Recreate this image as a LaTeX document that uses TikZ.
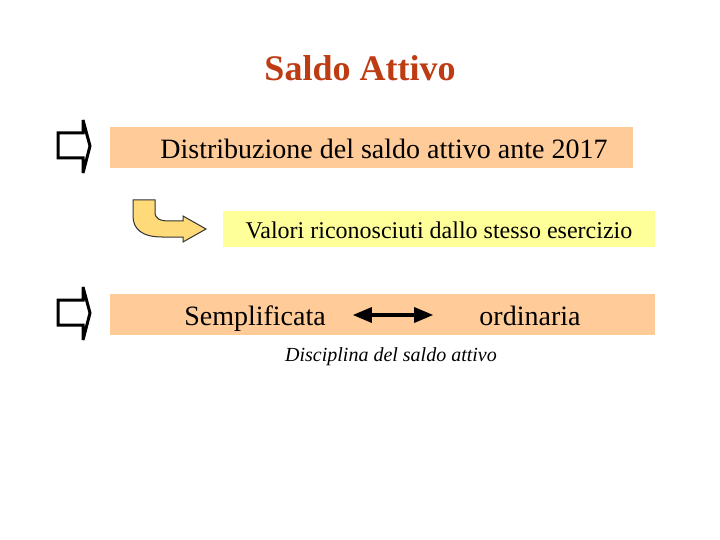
\documentclass[tikz,border=0pt]{standalone}
\usepackage{fontspec}
\setmainfont{Liberation Serif}
\usetikzlibrary{arrows}

\definecolor{titlered}{RGB}{190,60,20}
\definecolor{peach}{RGB}{255,204,153}
\definecolor{lightyellow}{RGB}{255,255,153}
\definecolor{gold}{RGB}{255,218,120}

\tikzset{
    txt/.style = {inner sep = 0pt, anchor = base},
    hollow/.style = {draw = black, line width = 3pt, fill = white, line join = miter, miter limit = 3}
}

\begin{document}
\begin{tikzpicture}[>=triangle 45, x = 1pt, y = -1pt]

    \useasboundingbox [fill = white] (0, 0) rectangle (720, 540);

    \node [txt, text = titlered, font = \fontsize{36}{40}\selectfont\bfseries] (title) at (360, 81) {Saldo Attivo};

    % first row
    \fill [peach] (110, 127) rectangle (633, 168);
    \draw [hollow] (58, 133) -- (83, 133) -- (83, 120) -- (90, 146) -- (83, 173) -- (83, 158) -- (58, 158) -- cycle;
    \node [txt, font = \fontsize{28}{32}\selectfont] (distr) at (384, 159) {Distribuzione del saldo attivo ante 2017};

    % curved arrow and second row
    \draw [fill = gold, draw = black!80, line width = 1pt]
        (133, 200) -- (155, 200) -- (155, 212) .. controls (155, 219) and (160, 221) .. (170, 221)
        -- (183, 221) -- (183, 216) -- (206, 229) -- (183, 242) -- (183, 237) -- (162, 237)
        .. controls (142, 237) and (133, 229) .. (133, 216) -- cycle;
    \fill [lightyellow] (223, 211) rectangle (655, 247);
    \node [txt, font = \fontsize{24}{28}\selectfont] (valori) at (439, 238) {Valori riconosciuti dallo stesso esercizio};

    % third row
    \fill [peach] (110, 294) rectangle (655, 335);
    \begin{scope}[yshift = -167pt]
        \draw [hollow] (58, 133) -- (83, 133) -- (83, 120) -- (90, 146) -- (83, 173) -- (83, 158) -- (58, 158) -- cycle;
    \end{scope}
    \node [txt, font = \fontsize{28}{32}\selectfont] (semp) at (255, 325) {Semplificata};
    \node [txt, font = \fontsize{28}{32}\selectfont] (ord) at (530, 325) {ordinaria};
    \coordinate (la) at (353, 315);
    \coordinate (ra) at (433, 315);
    \draw [<->, line width = 3.5pt] (la) -- (ra);

    \node [txt, font = \fontsize{20}{24}\selectfont\itshape] (disc) at (391, 361) {Disciplina del saldo attivo};

\end{tikzpicture}
\end{document}
